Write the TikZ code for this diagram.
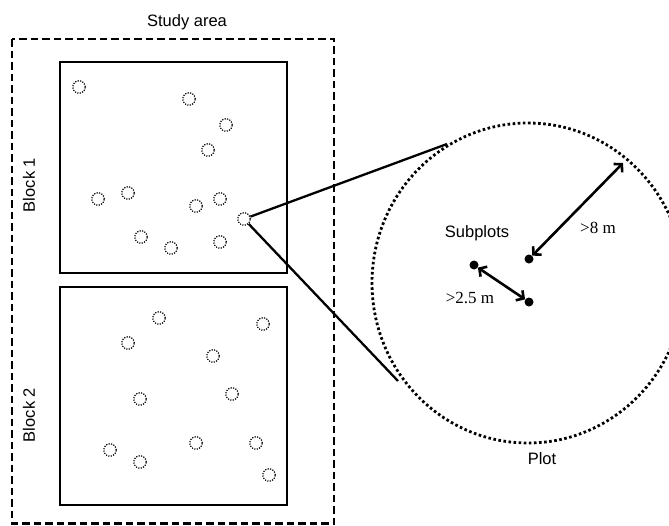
\documentclass[tikz,border=0pt]{standalone}
\usepackage{fontspec}
\setmainfont{Liberation Sans}
\newfontfamily\numfont{Liberation Serif}
\usetikzlibrary{arrows.meta}
\begin{document}
\begin{tikzpicture}[x=1pt,y=-1pt,
  every node/.style={font=\fontsize{16.5}{19}\selectfont},
  blockbox/.style={draw, line width=2.8pt, inner sep=0pt, outer sep=0pt},
  areabox/.style={draw, line width=2.6pt, dash pattern=on 7.5pt off 4pt},
  plotmark/.style={circle, draw, line width=1.2pt, dash pattern=on 1.2pt off 1.3pt,
    minimum size=12.5pt, inner sep=0pt},
  plotrim/.style={draw, line width=2.8pt, dash pattern=on 2.6pt off 2.5pt},
  subdot/.style={circle, fill, minimum size=9pt, inner sep=0pt},
  zoomline/.style={line width=2.3pt},
  dist/.style={line width=2.6pt, {Straight Barb[length=5.5pt,width=12pt]}-{Straight Barb[length=5.5pt,width=12pt]}},
  numlbl/.style={font=\numfont\fontsize{17}{19}\selectfont}
]
\useasboundingbox (0,0) rectangle (669,525);

% study area and its title
\draw[areabox] (12,39) rectangle (334,523.5);
\node (title) at (187,22) {Study area};

% the two blocks
\node[blockbox, minimum width=227pt, minimum height=211pt] (block1) at (173.5,167.5) {};
\node[blockbox, minimum width=227pt, minimum height=218pt] (block2) at (173.5,396) {};
\node[rotate=90] (lbl1) at (29,185) {Block 1};
\node[rotate=90] (lbl2) at (29,415) {Block 2};

% plots in block 1
\foreach \px/\py [count=\i] in {79/87, 189/99, 226/125, 208/150, 98/199, 128/193,
    196/206, 220/199, 244/219, 141/237, 171/248, 220/242}
  \node[plotmark] (a\i) at (\px,\py) {};

% plots in block 2
\foreach \px/\py [count=\i] in {159/318, 263/324, 128/343, 213/356, 232/394, 140/399,
    196/443, 110/450, 256/443, 140/462, 269/475}
  \node[plotmark] (b\i) at (\px,\py) {};

% enlarged plot
\draw[plotrim] (528,283) ellipse [x radius=156, y radius=160];
\coordinate (rimtop) at (447,144);
\coordinate (rimbot) at (398,381);
\coordinate (rimne) at (623,163);
\draw[zoomline] (a9) -- (rimtop);
\draw[zoomline] (a9) -- (rimbot);

% subplots
\node[subdot] (s1) at (529,259) {};
\node[subdot] (s2) at (474,265) {};
\node[subdot] (s3) at (529,302) {};
\draw[dist] (s1) -- (rimne);
\draw[dist] (s2) -- (s3);

\node (subplots) at (477,233) {Subplots};
\node (plot) at (542,459) {Plot};
\node[numlbl] (d8) at (598,228) {>8 m};
\node[numlbl] (d25) at (470,298) {>2.5 m};
\end{tikzpicture}
\end{document}
